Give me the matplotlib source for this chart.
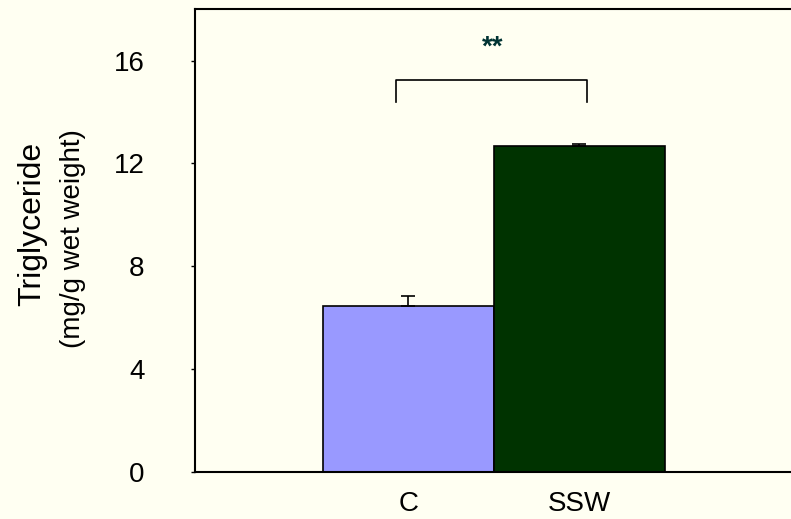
import matplotlib.pyplot as plt

plt.rcParams['font.family'] = ['Liberation Sans', 'DejaVu Sans']

groups = ['C', 'SSW']
means = [6.44, 12.66]
errors = [0.40, 0.11]
yticks = [0, 4, 8, 12, 16]
bar_colors = ['#9999FF', '#003300']
bg = '#FFFFF2'

W, H = 791, 519
fig = plt.figure(figsize=(W / 100, H / 100), dpi=100, facecolor=bg)
ax = fig.add_axes([0.2461, 0.0911, 0.7652, 0.891], facecolor=bg)

x = [0, 1]
ax.bar(x, means, width=1.0, color=bar_colors, edgecolor='black', linewidth=1.2, zorder=2)
ax.errorbar(x, means, yerr=[[0, 0], errors], fmt='none', ecolor='black',
            elinewidth=1.2, capsize=5, capthick=1.2, zorder=3)

# significance bracket
ax.plot([-0.07, -0.07, 1.045, 1.045], [14.41, 15.26, 15.26, 14.41],
        color='black', linewidth=1.2, zorder=3)
ax.text(0.49, 16.5, '**', ha='center', va='center', fontsize=20,
        color='#003333', fontweight='bold')

ax.set_xlim(-1.25, 2.289)
ax.set_ylim(0, 18)
ax.set_yticks(yticks)
ax.set_xticks(x)
ax.set_xticklabels(groups)
ax.tick_params(axis='y', direction='out', length=3, width=1, pad=33, labelsize=20)
ax.tick_params(axis='x', length=0, pad=14, labelsize=20)

for s in ['left', 'bottom', 'top']:
    ax.spines[s].set_linewidth(1.5)
ax.spines['right'].set_visible(False)

# y label, two lines of different size
fig.text(32.5 / W, 1 - 224 / H, 'Triglyceride', rotation=90, fontsize=23,
         ha='center', va='center')
fig.text(73 / W, 1 - 239 / H, '(mg/g wet weight)', rotation=90, fontsize=20,
         ha='center', va='center')

fig.savefig('out.png', dpi=100, facecolor=bg)
